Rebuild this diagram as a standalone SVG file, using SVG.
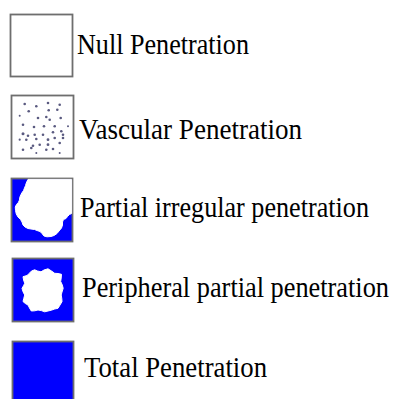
<svg xmlns="http://www.w3.org/2000/svg" width="394" height="399" viewBox="0 0 394 399">
<style>
.box{stroke:#6e6e6e;stroke-width:1.8}
.blank{fill:#ffffff}
.blue{fill:#0000ff}
.hole{fill:#ffffff;stroke:#ffffff;stroke-width:1;stroke-linejoin:round}
.lbl{font-size:29px;fill:#000}
.dot{fill:#5a5a80}
</style>
<rect width="394" height="399" fill="#ffffff"/>
<g id="null-penetration">
<rect class="box blank" x="10.5" y="14.5" width="62" height="62"/>
<text class="lbl" font-family="Liberation Serif, DejaVu Serif, serif" x="77" y="54" textLength="172" lengthAdjust="spacingAndGlyphs">Null Penetration</text>
</g>
<g id="vascular-penetration">
<rect class="box blank" x="11.5" y="95.5" width="62" height="63"/>
<g class="dot">
<circle cx="24.7" cy="104" r="1.3"/><circle cx="36.3" cy="106.3" r="1.3"/><circle cx="48" cy="103" r="1.3"/><circle cx="59.7" cy="104.7" r="1.3"/>
<circle cx="28.7" cy="111.3" r="1.3"/><circle cx="48.7" cy="110.3" r="1.3"/><circle cx="57.3" cy="109.7" r="1.3"/><circle cx="19.7" cy="115.7" r="1"/>
<circle cx="38" cy="118" r="1.3"/><circle cx="46.3" cy="117" r="1.3"/><circle cx="49.7" cy="119.7" r="1.3"/><circle cx="60.7" cy="118" r="1.3"/>
<circle cx="23" cy="124.7" r="1.3"/><circle cx="34" cy="127" r="1.3"/><circle cx="44" cy="126.3" r="1.3"/><circle cx="54.7" cy="126.3" r="1.3"/>
<circle cx="68" cy="126.3" r="1"/><circle cx="23" cy="133.7" r="1.5"/><circle cx="28" cy="135.7" r="1.3"/><circle cx="34.7" cy="134.7" r="1.3"/>
<circle cx="43" cy="134.7" r="1.3"/><circle cx="53" cy="132.3" r="1.3"/><circle cx="61.3" cy="131.3" r="1.3"/><circle cx="63" cy="134.7" r="1.3"/>
<circle cx="19.7" cy="139.7" r="1.1"/><circle cx="26.3" cy="139.7" r="1.3"/><circle cx="36.3" cy="139" r="1.3"/><circle cx="48" cy="139.7" r="1.4"/>
<circle cx="54.7" cy="138" r="1.3"/><circle cx="63" cy="138" r="1.3"/><circle cx="33" cy="145.7" r="1.3"/><circle cx="39.7" cy="144.7" r="1.3"/>
<circle cx="48" cy="144.7" r="1.4"/><circle cx="59.7" cy="143" r="1.3"/><circle cx="23" cy="149.7" r="1.3"/><circle cx="31.3" cy="148" r="1.3"/>
<circle cx="46.3" cy="149.7" r="1.3"/><circle cx="53" cy="149" r="1.3"/><circle cx="36.3" cy="153" r="1"/><circle cx="59.7" cy="153" r="1"/>
</g>
<text class="lbl" font-family="Liberation Serif, DejaVu Serif, serif" x="79" y="139" textLength="223" lengthAdjust="spacingAndGlyphs">Vascular Penetration</text>
</g>
<g id="partial-irregular-penetration">
<rect class="box blue" x="11.5" y="178.5" width="61" height="63"/>
<path class="hole" d="M28,179.4 L71.6,179.4 L71.6,213.5 L69.5,214.5 L67.5,216.5 L66,218.5 L63.5,219.5 L62.5,222 L62.5,225 L61.5,228 L59,231 L57,233.5 L54,235.5 L51,236.5 L47,236.8 L44,236 L42,233.5 L40,231.5 L37,230.5 L34.5,229.5 L31,229 L28,228.5 L25,227 L23,225 L22,222 L20.5,219.5 L18,217 L16.3,214 L15.5,210.5 L15.3,207 L16.5,204.5 L18.3,202.5 L19.5,200 L19.7,197.5 L20.8,195 L21.8,193 L23.5,190.5 L24.5,188 L25.5,185.5 L26.3,183 L27.2,181 Z"/>
<text class="lbl" font-family="Liberation Serif, DejaVu Serif, serif" x="80" y="217" textLength="289" lengthAdjust="spacingAndGlyphs">Partial irregular penetration</text>
</g>
<g id="peripheral-partial-penetration">
<rect class="box blue" x="12.5" y="258.5" width="61" height="63"/>
<path class="hole" d="M27,275.5 L29.7,273 L31.5,271 L34.7,269.8 L37.5,271 L41,271.8 L44,270 L48,268.8 L51.5,271 L54.7,273.3 L58,273.5 L61.5,274.3 L61.2,278 L60.7,281.5 L62.3,285 L63.2,288.3 L62,292 L61.2,295 L61.8,298.5 L62,301.7 L60,305 L58,308.3 L54.7,309 L51.3,310.2 L48,311 L44.7,311.8 L41.3,310.6 L38,310 L34.7,310.8 L31.3,311 L29.5,308 L28,305 L25.3,303.5 L23,301.5 L23.8,298.3 L24.7,295 L23,291.7 L22,288.3 L23.5,285.8 L24.7,283.3 L23.6,280 L23,276.7 Z"/>
<text class="lbl" font-family="Liberation Serif, DejaVu Serif, serif" x="82" y="297" textLength="307" lengthAdjust="spacingAndGlyphs">Peripheral partial penetration</text>
</g>
<g id="total-penetration">
<rect class="box blue" x="12.5" y="341.5" width="61" height="62"/>
<text class="lbl" font-family="Liberation Serif, DejaVu Serif, serif" x="84" y="377" textLength="183" lengthAdjust="spacingAndGlyphs">Total Penetration</text>
</g>
</svg>
